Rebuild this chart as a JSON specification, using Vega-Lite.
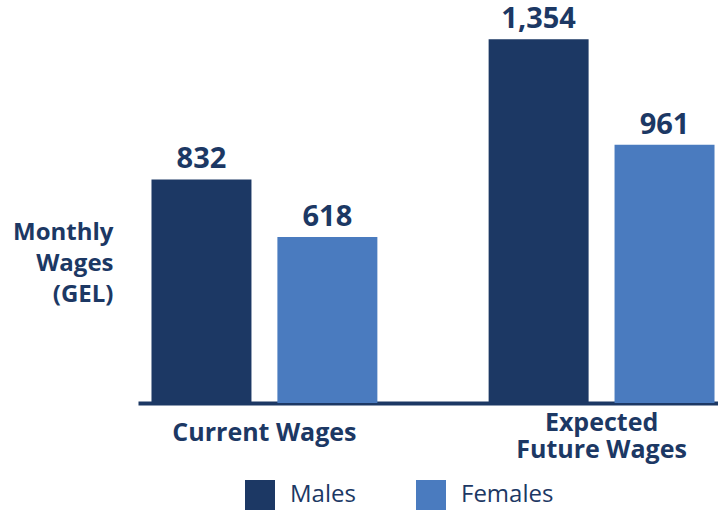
{
  "$schema": "https://vega.github.io/schema/vega-lite/v6.json",
  "autosize": "none",
  "width": 590,
  "height": 403,
  "padding": {"left": 138, "top": 0, "right": 0, "bottom": 109},
  "background": "white",
  "config": {
    "view": {"stroke": null},
    "font": "Open Sans"
  },
  "data": {
    "values": [
      {"period": "Current Wages", "gender": "Males", "wage": 832},
      {"period": "Current Wages", "gender": "Females", "wage": 618},
      {"period": "Expected|Future Wages", "gender": "Males", "wage": 1354},
      {"period": "Expected|Future Wages", "gender": "Females", "wage": 961}
    ]
  },
  "encoding": {
    "x": {
      "field": "period",
      "type": "nominal",
      "sort": null,
      "scale": {"paddingInner": 0.33, "paddingOuter": 0.04},
      "axis": {
        "title": null,
        "labelAngle": 0,
        "labelExpr": "split(datum.label, '|')",
        "labelFont": "Open Sans",
        "labelFontWeight": "bold",
        "labelFontSize": 25,
        "labelColor": "#1c3864",
        "labelLineHeight": 27,
        "labelLimit": 400,
        "labelBaseline": "middle",
        "labelPadding": {"condition": {"test": "datum.value === 'Current Wages'", "value": 29}, "value": 19},
        "ticks": false,
        "domainColor": "#1c3864",
        "domainWidth": 4,
        "grid": false
      }
    },
    "xOffset": {
      "field": "gender",
      "type": "nominal",
      "sort": ["Males", "Females"],
      "scale": {"paddingInner": 0.206, "paddingOuter": 0}
    },
    "y": {
      "field": "wage",
      "type": "quantitative",
      "scale": {"domain": [0, 1500]},
      "axis": {
        "title": ["Monthly", "Wages", "(GEL)"],
        "titleAngle": 0,
        "titleAlign": "right",
        "titleBaseline": "top",
        "titleX": -25,
        "titleY": 220,
        "titleFont": "Open Sans",
        "titleFontWeight": "bold",
        "titleFontSize": 24,
        "titleLineHeight": 31,
        "titleColor": "#1c3864",
        "labels": false,
        "ticks": false,
        "domain": false,
        "grid": false
      }
    }
  },
  "layer": [
    {
      "mark": {"type": "bar"},
      "encoding": {
        "color": {
          "field": "gender",
          "type": "nominal",
          "scale": {"domain": ["Males", "Females"], "range": ["#1c3864", "#4a7bbf"]},
          "legend": {
            "title": null,
            "orient": "none",
            "direction": "horizontal",
            "legendX": 107,
            "legendY": 480,
            "symbolType": "square",
            "symbolSize": 900,
            "symbolStrokeWidth": 0,
            "symbolOpacity": 1,
            "labelFont": "Open Sans",
            "labelFontSize": 24,
            "labelColor": "#1c3864",
            "labelOffset": 15,
            "columnPadding": 60
          }
        }
      }
    },
    {
      "mark": {
        "type": "text",
        "baseline": "bottom",
        "dy": -5,
        "font": "Open Sans",
        "fontWeight": "bold",
        "fontSize": 29,
        "color": "#1c3864"
      },
      "encoding": {
        "text": {"field": "wage", "type": "quantitative", "format": ","}
      }
    }
  ]
}
